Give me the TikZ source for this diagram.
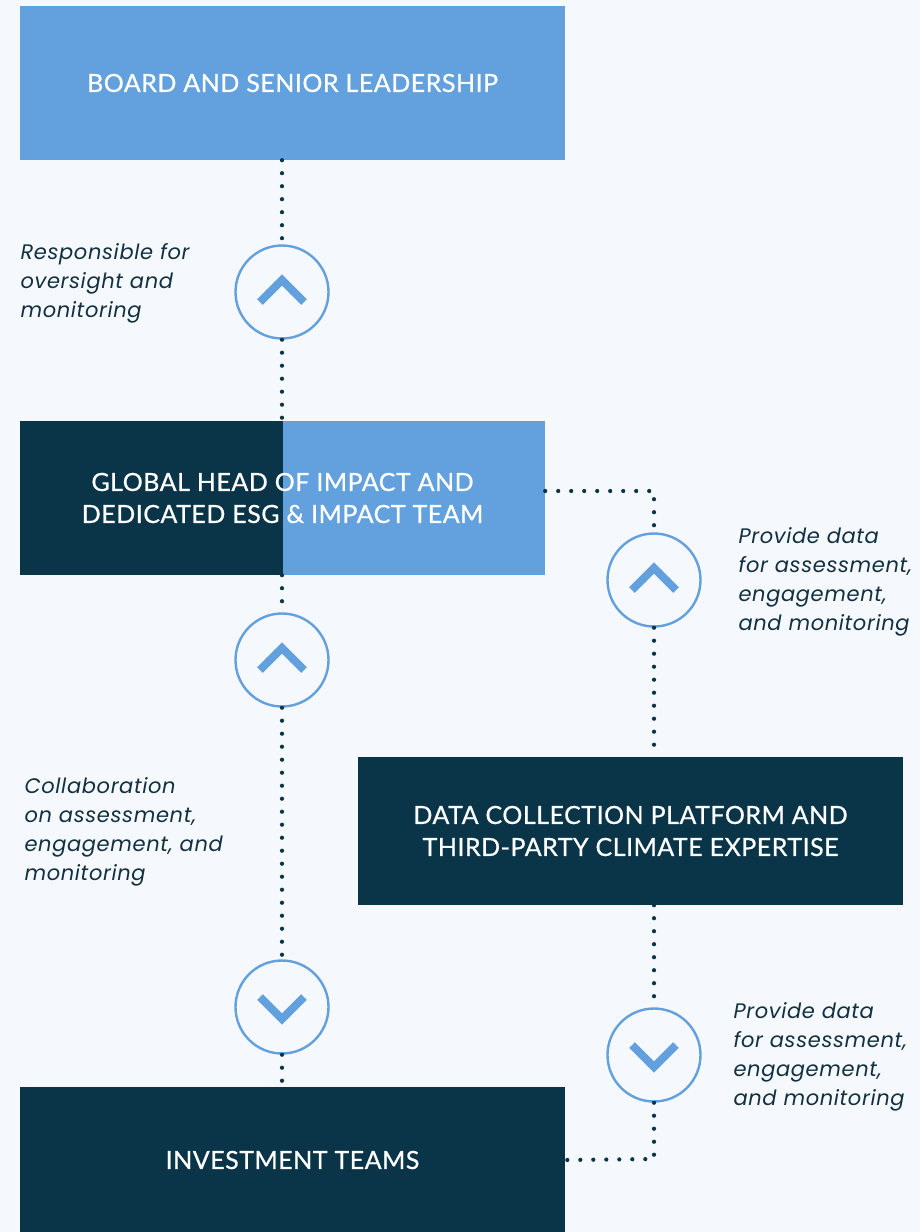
\documentclass[tikz,border=0pt]{standalone}
\usepackage{fontspec}
\setmainfont{Lato}
\newfontfamily\boxfont[FakeBold=0.7, LetterSpace=2]{Lato}
\newfontfamily\notefont[LetterSpace=3]{Poppins}
\usepackage{xcolor}
\usepackage{tikz}
\usetikzlibrary{positioning, arrows.meta, shapes}

\definecolor{paper}{HTML}{F5F9FE}
\definecolor{skyblue}{HTML}{62A1DE}
\definecolor{navy}{HTML}{0A3448}
\definecolor{inkblue}{HTML}{12303F}

\tikzset{
  box/.style={rectangle, minimum width=545pt, minimum height=154pt, inner sep=0pt,
    text=white, align=center, font=\boxfont\fontsize{25}{32}\selectfont},
  lightbox/.style={box, fill=skyblue},
  darkbox/.style={box, fill=navy},
  ring/.style={circle, draw=skyblue, line width=2.4pt, fill=paper, minimum size=93pt, inner sep=0pt},
  dots/.style={draw=navy, line width=4.2pt, line cap=round, dash pattern=on 0pt off 13pt},
  note/.style={anchor=west, align=left, text=inkblue, font=\notefont\itshape\fontsize{21}{29}\selectfont},
  chevup/.style={draw=skyblue, line width=8pt, miter limit=10},
}

\newcommand{\upmark}[1]{\draw[chevup] ([shift={(-22pt,-10pt)}]#1.center) -- ([shift={(0pt,12pt)}]#1.center) -- ([shift={(22pt,-10pt)}]#1.center);}
\newcommand{\downmark}[1]{\draw[chevup] ([shift={(-22pt,10pt)}]#1.center) -- ([shift={(0pt,-12pt)}]#1.center) -- ([shift={(22pt,10pt)}]#1.center);}

\begin{document}
\begin{tikzpicture}[x=1pt, y=-1pt]
    \fill[paper] (0,0) rectangle (920,1232);
    \useasboundingbox (0,0) rectangle (920,1232);

    % Boxes
    \node[lightbox] (board) at (292.5,83) {BOARD AND SENIOR LEADERSHIP};
    \node[box, minimum width=525pt, fill=skyblue,
      path picture={\fill[navy] (path picture bounding box.south west) rectangle (path picture bounding box.north);}]
      (head) at (282.5,498) {GLOBAL HEAD OF IMPACT AND\\DEDICATED ESG \& IMPACT TEAM};
    \node[darkbox, minimum height=148pt] (data) at (630.5,831) {DATA COLLECTION PLATFORM AND\\THIRD-PARTY CLIMATE EXPERTISE};
    \node[darkbox, minimum height=146pt] (invest) at (292.5,1160) {INVESTMENT TEAMS};

    % Circles on the links
    \node[ring] (r1) at (282,292) {};
    \node[ring] (r2) at (282,660) {};
    \node[ring] (r3) at (282,1007) {};
    \node[ring] (r4) at (654,580) {};
    \node[ring] (r5) at (654,1055) {};

    % Corners
    \coordinate (k1) at (654,491);
    \coordinate (k2) at (654,1159);

    % Dotted links
    \draw[dots] (board.south -| r1) -- (r1);
    \draw[dots] (r1) -- (head.north -| r1);
    \draw[dots] (head.south -| r2) -- (r2);
    \draw[dots] (r2) -- (r3);
    \draw[dots] (r3) -- (invest.north -| r3);
    \draw[dots] (k1 -| head.east) -- (k1) -- (r4);
    \draw[dots] (r4) -- (data.north -| r4);
    \draw[dots] (data.south -| r5) -- (r5);
    \draw[dots] (r5) -- (k2) -- (invest.east);

    % Chevrons
    \upmark{r1}
    \upmark{r2}
    \upmark{r4}
    \downmark{r3}
    \downmark{r5}

    % Notes
    \node[note] (n1) at (17,283) {Responsible for\\oversight and\\monitoring};
    \node[note] (n2) at (735,582) {Provide data\\for assessment,\\engagement,\\and monitoring};
    \node[note] (n3) at (21,832) {Collaboration\\on assessment,\\engagement, and\\monitoring};
    \node[note] (n4) at (730,1057) {Provide data\\for assessment,\\engagement,\\and monitoring};
\end{tikzpicture}
\end{document}
